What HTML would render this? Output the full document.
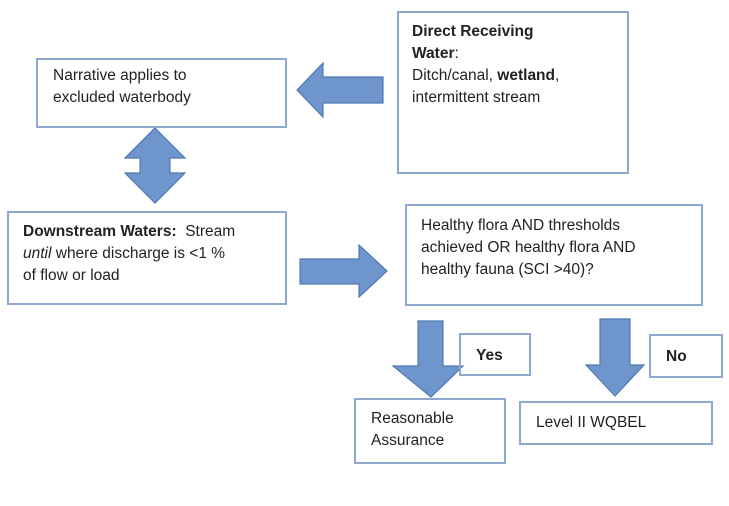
<!DOCTYPE html>
<html><head><style>
body{margin:0;width:729px;height:506px;background:#fff;position:relative;overflow:hidden;font-family:"Liberation Sans",sans-serif;color:#222;}
.b{position:absolute;border:2px solid #8fa8d0;box-sizing:border-box;font-size:15.5px;line-height:22px;}
svg{position:absolute;left:0;top:0}
</style></head><body>
<svg width="729" height="506">
<g fill="#6f96cc" stroke="#4f78b3" stroke-width="1.2">
<polygon points="297,90 323,63 323,77 383,77 383,103 323,103 323,117"/>
<polygon points="155,128 185,158 170,158 170,173 185,173 155,203 125,173 140,173 140,158 125,158"/>
<polygon points="300,259 359,259 359,245 387,271 359,297 359,284 300,284"/>
<polygon points="418,321 443,321 443,366 463,366 431,397 393,366 418,366"/>
<polygon points="600,319 630,319 630,365 644,365 615,396 586,365 600,365"/>
</g>
</svg>
<div class="b" style="left:36px;top:58px;width:251px;height:70px;padding:5px 0 0 15px">Narrative applies to<br>excluded waterbody</div>
<div class="b" style="left:397px;top:11px;width:232px;height:163px;padding:8px 0 0 13px"><b>Direct Receiving<br>Water</b>:<br>Ditch/canal, <b>wetland</b>,<br>intermittent stream</div>
<div class="b" style="left:7px;top:211px;width:280px;height:94px;padding:8px 0 0 14px"><b>Downstream Waters:</b>&nbsp; Stream<br><i>until</i> where discharge is &lt;1 %<br>of flow or load</div>
<div class="b" style="left:405px;top:204px;width:298px;height:102px;padding:9px 0 0 14px">Healthy flora AND thresholds<br>achieved OR healthy flora AND<br>healthy fauna (SCI &gt;40)?</div>
<div class="b" style="left:459px;top:333px;width:72px;height:43px;padding:10px 0 0 15px"><b>Yes</b></div>
<div class="b" style="left:649px;top:334px;width:74px;height:44px;padding:10px 0 0 15px"><b>No</b></div>
<div class="b" style="left:354px;top:398px;width:152px;height:66px;padding:8px 0 0 15px">Reasonable<br>Assurance</div>
<div class="b" style="left:519px;top:401px;width:194px;height:44px;padding:9px 0 0 15px">Level II WQBEL</div>
</body></html>
